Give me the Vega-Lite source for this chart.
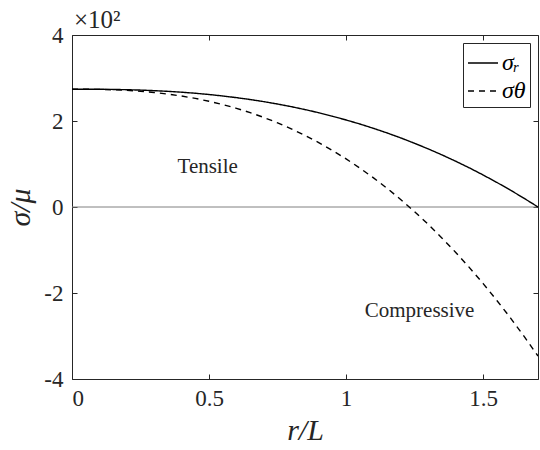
{
  "$schema": "https://vega.github.io/schema/vega-lite/v6.json",
  "width": 466,
  "height": 344,
  "autosize": {"type": "none"},
  "padding": {"left": 72, "top": 35, "right": 2, "bottom": 71},
  "config": {
    "font": "Liberation Serif",
    "view": {"stroke": "#262626", "strokeWidth": 1},
    "axis": {
      "grid": false,
      "domain": false,
      "offset": -5,
      "tickColor": "#262626",
      "tickWidth": 1,
      "tickSize": 5,
      "labelColor": "#262626",
      "labelFontSize": 23,
      "labelFont": "Liberation Serif",
      "titleColor": "#262626",
      "titleFont": "Liberation Serif",
      "titleFontSize": 30,
      "titleFontStyle": "italic",
      "titleFontWeight": "normal"
    }
  },
  "datasets": {
    "curves": [
      {"r": 0.0, "s": 2.740, "series": "r"},
      {"r": 0.05, "s": 2.740, "series": "r"},
      {"r": 0.1, "s": 2.738, "series": "r"},
      {"r": 0.15, "s": 2.734, "series": "r"},
      {"r": 0.2, "s": 2.728, "series": "r"},
      {"r": 0.25, "s": 2.719, "series": "r"},
      {"r": 0.3, "s": 2.706, "series": "r"},
      {"r": 0.35, "s": 2.690, "series": "r"},
      {"r": 0.4, "s": 2.670, "series": "r"},
      {"r": 0.45, "s": 2.645, "series": "r"},
      {"r": 0.5, "s": 2.616, "series": "r"},
      {"r": 0.55, "s": 2.582, "series": "r"},
      {"r": 0.6, "s": 2.543, "series": "r"},
      {"r": 0.65, "s": 2.499, "series": "r"},
      {"r": 0.7, "s": 2.450, "series": "r"},
      {"r": 0.75, "s": 2.394, "series": "r"},
      {"r": 0.8, "s": 2.333, "series": "r"},
      {"r": 0.85, "s": 2.266, "series": "r"},
      {"r": 0.9, "s": 2.192, "series": "r"},
      {"r": 0.95, "s": 2.111, "series": "r"},
      {"r": 1.0, "s": 2.024, "series": "r"},
      {"r": 1.05, "s": 1.930, "series": "r"},
      {"r": 1.1, "s": 1.829, "series": "r"},
      {"r": 1.15, "s": 1.721, "series": "r"},
      {"r": 1.2, "s": 1.605, "series": "r"},
      {"r": 1.25, "s": 1.481, "series": "r"},
      {"r": 1.3, "s": 1.350, "series": "r"},
      {"r": 1.35, "s": 1.211, "series": "r"},
      {"r": 1.4, "s": 1.064, "series": "r"},
      {"r": 1.45, "s": 0.908, "series": "r"},
      {"r": 1.5, "s": 0.744, "series": "r"},
      {"r": 1.55, "s": 0.571, "series": "r"},
      {"r": 1.6, "s": 0.390, "series": "r"},
      {"r": 1.65, "s": 0.199, "series": "r"},
      {"r": 1.7, "s": 0.000, "series": "r"},
      {"r": 0.0, "s": 2.740, "series": "theta"},
      {"r": 0.05, "s": 2.739, "series": "theta"},
      {"r": 0.1, "s": 2.735, "series": "theta"},
      {"r": 0.15, "s": 2.727, "series": "theta"},
      {"r": 0.2, "s": 2.712, "series": "theta"},
      {"r": 0.25, "s": 2.691, "series": "theta"},
      {"r": 0.3, "s": 2.663, "series": "theta"},
      {"r": 0.35, "s": 2.626, "series": "theta"},
      {"r": 0.4, "s": 2.580, "series": "theta"},
      {"r": 0.45, "s": 2.525, "series": "theta"},
      {"r": 0.5, "s": 2.459, "series": "theta"},
      {"r": 0.55, "s": 2.383, "series": "theta"},
      {"r": 0.6, "s": 2.295, "series": "theta"},
      {"r": 0.65, "s": 2.195, "series": "theta"},
      {"r": 0.7, "s": 2.082, "series": "theta"},
      {"r": 0.75, "s": 1.957, "series": "theta"},
      {"r": 0.8, "s": 1.818, "series": "theta"},
      {"r": 0.85, "s": 1.665, "series": "theta"},
      {"r": 0.9, "s": 1.499, "series": "theta"},
      {"r": 0.95, "s": 1.316, "series": "theta"},
      {"r": 1.0, "s": 1.119, "series": "theta"},
      {"r": 1.05, "s": 0.906, "series": "theta"},
      {"r": 1.1, "s": 0.677, "series": "theta"},
      {"r": 1.15, "s": 0.432, "series": "theta"},
      {"r": 1.2, "s": 0.169, "series": "theta"},
      {"r": 1.25, "s": -0.111, "series": "theta"},
      {"r": 1.3, "s": -0.408, "series": "theta"},
      {"r": 1.35, "s": -0.724, "series": "theta"},
      {"r": 1.4, "s": -1.057, "series": "theta"},
      {"r": 1.45, "s": -1.410, "series": "theta"},
      {"r": 1.5, "s": -1.781, "series": "theta"},
      {"r": 1.55, "s": -2.173, "series": "theta"},
      {"r": 1.6, "s": -2.583, "series": "theta"},
      {"r": 1.65, "s": -3.015, "series": "theta"},
      {"r": 1.7, "s": -3.466, "series": "theta"}
    ],
    "notes": [
      {"r": 0.495, "s": 0.92, "label": "Tensile"},
      {"r": 1.268, "s": -2.41, "label": "Compressive"}
    ],
    "exponent": [
      {"r": 0, "s": 4, "label": "×10²"}
    ]
  },
  "layer": [
    {
      "data": {"values": [{"zero": 0}]},
      "mark": {"type": "rule", "color": "#808080", "strokeWidth": 1},
      "encoding": {
        "y": {"field": "zero", "type": "quantitative", "scale": {"domain": [-4, 4]}, "axis": null}
      }
    },
    {
      "data": {"name": "curves"},
      "mark": {"type": "line", "color": "#000000", "strokeWidth": 1.4, "clip": true},
      "encoding": {
        "x": {
          "field": "r",
          "type": "quantitative",
          "scale": {"domain": [0, 1.7], "nice": false, "zero": false},
          "axis": {"values": [0, 0.5, 1, 1.5], "labelExpr": "'' + datum.value", "labelFont": "Liberation Serif", "labelPadding": 8, "title": "r/L", "titlePadding": 5}
        },
        "y": {
          "field": "s",
          "type": "quantitative",
          "scale": {"domain": [-4, 4], "nice": false},
          "axis": {"values": [-4, -2, 0, 2, 4], "labelExpr": "'' + datum.value", "labelFont": "Liberation Serif", "labelPadding": 9, "title": "σ/μ", "titlePadding": 8}
        },
        "strokeDash": {
          "field": "series",
          "type": "nominal",
          "scale": {"domain": ["r", "theta"], "range": [[1, 0], [6, 5]]},
          "legend": {
            "title": null,
            "orient": "top-right",
            "offset": 8,
            "labelExpr": "datum.label == 'r' ? 'σᵣ' : 'σθ'",
            "labelFontSize": 24,
            "labelFontStyle": "italic",
            "labelColor": "#000000",
            "labelFont": "Liberation Serif",
            "symbolType": "stroke",
            "symbolSize": 900,
            "symbolStrokeWidth": 1.4,
            "symbolStrokeColor": "#000000",
            "strokeColor": "#262626",
            "fillColor": "#ffffff",
            "padding": 4,
            "rowPadding": 0,
            "labelOffset": 3
          }
        }
      }
    },
    {
      "data": {"name": "notes"},
      "mark": {"type": "text", "fontSize": 21, "font": "Liberation Serif", "color": "#262626", "baseline": "middle", "align": "center"},
      "encoding": {
        "x": {
          "field": "r",
          "type": "quantitative",
          "axis": {"orient": "top", "values": [0, 0.5, 1, 1.5], "labels": false, "title": null}
        },
        "y": {
          "field": "s",
          "type": "quantitative",
          "axis": {"orient": "right", "values": [-4, -2, 0, 2, 4], "labels": false, "title": null}
        },
        "text": {"field": "label", "type": "nominal"}
      }
    },
    {
      "data": {"name": "exponent"},
      "mark": {"type": "text", "fontSize": 25, "font": "Liberation Serif", "color": "#262626", "baseline": "alphabetic", "align": "left", "dx": 2, "dy": -7},
      "encoding": {
        "x": {"field": "r", "type": "quantitative", "axis": null},
        "y": {"field": "s", "type": "quantitative", "axis": null},
        "text": {"field": "label", "type": "nominal"}
      }
    }
  ],
  "resolve": {"axis": {"x": "independent", "y": "independent"}}
}
